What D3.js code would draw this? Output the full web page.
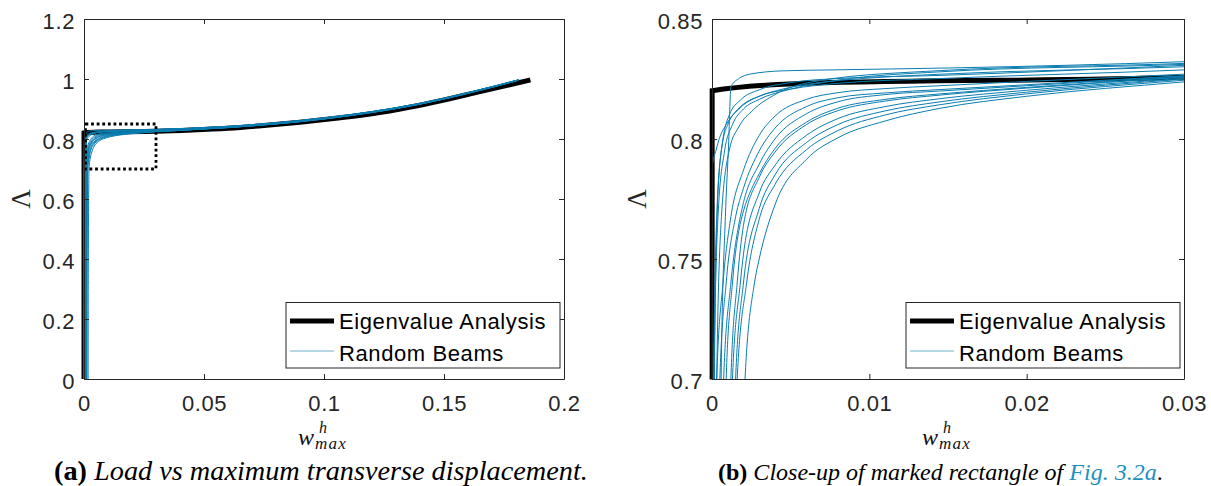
<!DOCTYPE html>
<html><head><meta charset="utf-8">
<script src="https://cdn.jsdelivr.net/npm/d3@7"></script>
<style>body{margin:0;background:#fff} svg{display:block}</style>
</head><body>
<svg id="chart" width="1211" height="486"></svg>
<script>
// ---------------- DATA ----------------
const xTicksA = [0, 0.05, 0.1, 0.15, 0.2];
const xTickLabelsA = ["0", "0.05", "0.1", "0.15", "0.2"];
const yTicksA = [0, 0.2, 0.4, 0.6, 0.8, 1, 1.2];
const yTickLabelsA = ["0", "0.2", "0.4", "0.6", "0.8", "1", "1.2"];
const xTicksB = [0, 0.01, 0.02, 0.03];
const xTickLabelsB = ["0", "0.01", "0.02", "0.03"];
const yTicksB = [0.7, 0.75, 0.8, 0.85];
const yTickLabelsB = ["0.7", "0.75", "0.8", "0.85"];
const zoomRect = [[0, 0.7], [0.03, 0.85]];
const legendLabels = ["Eigenvalue Analysis", "Random Beams"];

// Eigenvalue analysis: [w_max, Lambda]
const eigenvalueCurve = [[0,0],[0.00001,0.8201],[0.006,0.8232],[0.03,0.8257],[0.045,0.830],[0.06,0.836],[0.075,0.845],[0.09,0.856],[0.105,0.869],[0.12,0.884],[0.135,0.905],[0.15,0.930],[0.165,0.958],[0.186,0.997]];

// Random beams: [w_max, Lambda]
const beam01 = [[0.0004,0],[0.00046,0.4],[0.00058,0.70],[0.00085,0.7676],[0.00104,0.7954],[0.00121,0.8218],[0.00174,0.8253],[0.0024,0.827],[0.0045,0.8284],[0.0077,0.8288],[0.0151,0.8296],[0.03,0.8322],[0.06,0.8425],[0.1,0.8705],[0.14,0.919],[0.1812,0.998]];
const beam02 = [[0,0],[0.00001,0.4],[0.00002,0.7],[0.00003,0.789],[0.00026,0.7954],[0.00047,0.8003],[0.0009,0.806],[0.00132,0.81],[0.00195,0.8143],[0.003,0.8178],[0.0045,0.8208],[0.0066,0.8233],[0.0098,0.8253],[0.0145,0.827],[0.03,0.8301],[0.06,0.8405],[0.1,0.869],[0.14,0.918],[0.1808,0.996]];
const beam03 = [[0.0002,0],[0.00024,0.4],[0.0003,0.70],[0.0006,0.7676],[0.0011,0.7954],[0.0017,0.805],[0.0026,0.812],[0.004,0.8185],[0.007,0.8245],[0.0145,0.8285],[0.03,0.8315],[0.06,0.842],[0.1,0.870],[0.14,0.9185],[0.181,0.997]];
const beam04 = [[0.00006,0],[0.00008,0.4],[0.0001,0.7],[0.0003,0.7676],[0.0006,0.7954],[0.001,0.806],[0.0018,0.813],[0.003,0.8178],[0.005,0.8208],[0.008,0.8232],[0.0145,0.8252],[0.03,0.8288],[0.06,0.8405],[0.1,0.8685],[0.14,0.9175],[0.1805,0.995]];
const beam05 = [[0.0001,0],[0.00012,0.4],[0.00015,0.7],[0.0004,0.78],[0.0007,0.8],[0.0011,0.81],[0.0018,0.8162],[0.003,0.8205],[0.005,0.8235],[0.008,0.8252],[0.0145,0.8265],[0.03,0.8307],[0.06,0.841],[0.1,0.8695],[0.14,0.918],[0.181,0.9965]];
const beam06 = [[0.00008,0],[0.0001,0.4],[0.00012,0.7],[0.0004,0.77],[0.0008,0.795],[0.0013,0.806],[0.002,0.8125],[0.003,0.8165],[0.005,0.8208],[0.008,0.8245],[0.0145,0.828],[0.03,0.8311],[0.06,0.8415],[0.1,0.8698],[0.14,0.9185],[0.1811,0.9972]];
const beam07 = [[0.0002,0],[0.00024,0.4],[0.0003,0.7],[0.0007,0.74],[0.0012,0.7676],[0.002,0.787],[0.003,0.8015],[0.004,0.8095],[0.006,0.8165],[0.008,0.8193],[0.011,0.821],[0.0145,0.8222],[0.02,0.824],[0.03,0.827],[0.06,0.8395],[0.1,0.868],[0.14,0.9175],[0.1806,0.9955]];
const beam08 = [[0.00034,0],[0.0004,0.4],[0.0005,0.7],[0.0009,0.74],[0.0015,0.7676],[0.002,0.7795],[0.003,0.795],[0.004,0.8045],[0.006,0.8135],[0.008,0.8172],[0.011,0.8192],[0.0145,0.8206],[0.02,0.8226],[0.03,0.8264],[0.06,0.839],[0.1,0.868],[0.14,0.917],[0.1804,0.995]];
const beam09 = [[0.0005,0],[0.00059,0.4],[0.00074,0.7],[0.0012,0.74],[0.0018,0.7676],[0.002,0.7735],[0.003,0.7895],[0.004,0.8],[0.006,0.8105],[0.008,0.8155],[0.011,0.8185],[0.0145,0.82],[0.02,0.8222],[0.03,0.8262],[0.06,0.839],[0.1,0.8678],[0.14,0.917],[0.1803,0.9948]];
const beam10 = [[0.0006,0],[0.0007,0.4],[0.0009,0.7],[0.0013,0.74],[0.0019,0.7676],[0.002,0.770],[0.003,0.7855],[0.004,0.796],[0.006,0.807],[0.008,0.8128],[0.011,0.8165],[0.0145,0.8188],[0.02,0.8215],[0.03,0.8259],[0.06,0.8388],[0.1,0.8676],[0.14,0.9168],[0.1803,0.9945]];
const beam11 = [[0.0008,0],[0.00095,0.4],[0.0012,0.7],[0.0016,0.74],[0.002,0.764],[0.003,0.784],[0.004,0.7945],[0.006,0.806],[0.008,0.8118],[0.011,0.8158],[0.0145,0.8183],[0.02,0.8212],[0.03,0.8257],[0.06,0.8385],[0.1,0.8675],[0.14,0.9168],[0.1803,0.9945]];
const beam12 = [[0.0009,0],[0.00104,0.4],[0.0013,0.7],[0.0018,0.74],[0.002,0.752],[0.003,0.7775],[0.004,0.789],[0.006,0.8015],[0.008,0.8085],[0.011,0.8135],[0.0145,0.8168],[0.02,0.8203],[0.03,0.8253],[0.06,0.8385],[0.1,0.867],[0.14,0.9165],[0.1802,0.994]];
const beam13 = [[0.0011,0],[0.0012,0.4],[0.0015,0.7],[0.002,0.74],[0.003,0.771],[0.004,0.785],[0.006,0.7985],[0.008,0.806],[0.011,0.8117],[0.0145,0.8155],[0.02,0.8195],[0.03,0.825],[0.06,0.838],[0.1,0.867],[0.14,0.9165],[0.1802,0.994]];
const beam14 = [[0.0012,0],[0.0013,0.4],[0.0016,0.7],[0.0022,0.74],[0.003,0.7665],[0.004,0.781],[0.006,0.7955],[0.008,0.8035],[0.011,0.81],[0.0145,0.8143],[0.02,0.8188],[0.03,0.8245],[0.06,0.838],[0.1,0.8668],[0.14,0.9162],[0.1802,0.9938]];
const beam15 = [[0.0017,0],[0.0018,0.4],[0.0021,0.7],[0.0027,0.74],[0.003,0.75],[0.004,0.7725],[0.006,0.7915],[0.008,0.8005],[0.011,0.8075],[0.0145,0.8128],[0.02,0.8178],[0.03,0.8238],[0.06,0.8378],[0.1,0.8665],[0.14,0.916],[0.18,0.9935]];
const randomBeams = [beam01,beam02,beam03,beam04,beam05,beam06,beam07,beam08,beam09,beam10,beam11,beam12,beam13,beam14,beam15];

// ---------------- DRAWING ----------------
const svg = d3.select("#chart");
const SANS = "'Liberation Sans', Arial, Helvetica, sans-serif";
const SERIF = "'Liberation Serif', 'Times New Roman', serif";
const INK = "#262626";
const BLUE = "#0a7db0";

function panel(cfg) {
  const x = d3.scaleLinear().domain(cfg.xDomain).range([cfg.left, cfg.right]);
  const y = d3.scaleLinear().domain(cfg.yDomain).range([cfg.bottom, cfg.top]);
  const g = svg.append("g");
  const clipId = "clip" + cfg.id;
  svg.append("clipPath").attr("id", clipId).append("rect")
    .attr("x", cfg.left - 3).attr("y", cfg.top - 3)
    .attr("width", cfg.right - cfg.left + 3).attr("height", cfg.bottom - cfg.top + 3.5);

  const line = d3.line().x(d => x(d[0])).y(d => y(d[1])).curve(d3.curveMonotoneX);
  const plot = g.append("g").attr("clip-path", `url(#${clipId})`);
  plot.append("path").datum(eigenvalueCurve).attr("d", line)
    .attr("fill", "none").attr("stroke", "#000").attr("stroke-width", 5).attr("stroke-linejoin", "miter");
  plot.selectAll("path.beam").data(randomBeams).join("path").attr("class", "beam")
    .attr("d", line).attr("fill", "none").attr("stroke", BLUE).attr("stroke-width", 1);

  if (cfg.showRect) {
    g.append("rect")
      .attr("x", x(zoomRect[0][0]) + 1.5).attr("y", y(zoomRect[1][1]))
      .attr("width", x(zoomRect[1][0]) - x(zoomRect[0][0]) - 1.5)
      .attr("height", y(zoomRect[0][1]) - y(zoomRect[1][1]))
      .attr("fill", "none").attr("stroke", "#000").attr("stroke-width", 2.8)
      .attr("stroke-dasharray", "2.8 2.8");
  }

  function style(sel) {
    sel.selectAll("path.domain").attr("stroke", INK);
    sel.selectAll(".tick line").attr("stroke", INK);
    sel.selectAll("text").attr("fill", INK).attr("font-family", SANS)
      .attr("font-size", 22).attr("letter-spacing", "0.6px");
  }
  const bx = g.append("g").attr("transform", `translate(0,${cfg.bottom})`)
    .call(d3.axisBottom(x).tickValues(cfg.xTicks).tickFormat((d, i) => cfg.xLabels[i])
      .tickSizeInner(-5).tickSizeOuter(0).tickPadding(0));
  style(bx); bx.selectAll("text").attr("y", 32).attr("dy", 0);
  const tx = g.append("g").attr("transform", `translate(0,${cfg.top})`)
    .call(d3.axisTop(x).tickValues(cfg.xTicks).tickFormat("").tickSizeInner(-5).tickSizeOuter(0));
  style(tx);
  const ly = g.append("g").attr("transform", `translate(${cfg.left},0)`)
    .call(d3.axisLeft(y).tickValues(cfg.yTicks).tickFormat((d, i) => cfg.yLabels[i])
      .tickSizeInner(-5).tickSizeOuter(0).tickPadding(0));
  style(ly); ly.selectAll("text").attr("x", -9).attr("dy", 9);
  const ry = g.append("g").attr("transform", `translate(${cfg.right},0)`)
    .call(d3.axisRight(y).tickValues(cfg.yTicks).tickFormat("").tickSizeInner(-5).tickSizeOuter(0));
  style(ry);
  g.selectAll(".domain").attr("fill", "none");

  // Y label
  g.append("text").attr("transform", `translate(${cfg.yLabelX},199) rotate(-90)`)
    .attr("text-anchor", "middle").attr("dominant-baseline", "central")
    .attr("font-family", SERIF).attr("font-size", 27).attr("fill", INK).text("\u039B");

  // X label w^h_max
  const cx = (cfg.left + cfg.right) / 2;
  const xl = g.append("text").attr("font-family", SERIF).attr("font-style", "italic").attr("fill", "#111");
  xl.append("tspan").attr("x", cx - 26).attr("y", 445).attr("font-size", 24).text("w");
  xl.append("tspan").attr("x", cx - 5).attr("y", 433).attr("font-size", 16).text("h");
  xl.append("tspan").attr("x", cx - 9).attr("y", 449).attr("font-size", 17).attr("letter-spacing", "1.2px").text("max");

  // Legend
  const lw = 274, lx = cfg.right - 4 - lw, ltop = 302.5, lh = 65.5;
  const lg = g.append("g");
  lg.append("rect").attr("x", lx).attr("y", ltop).attr("width", lw).attr("height", lh)
    .attr("fill", "#fff").attr("stroke", INK).attr("stroke-width", 1);
  const rows = [{ c: "#000", w: 5, yl: 321, yt: 329 }, { c: BLUE, w: 1, yl: 351, yt: 361 }];
  legendLabels.forEach((lab, i) => {
    lg.append("line").attr("x1", lx + 4).attr("x2", lx + 48).attr("y1", rows[i].yl).attr("y2", rows[i].yl)
      .attr("stroke", rows[i].c).attr("stroke-width", rows[i].w).attr("opacity", i === 1 ? 0.6 : 1);
    lg.append("text").attr("x", lx + 53).attr("y", rows[i].yt).attr("font-family", SANS)
      .attr("font-size", 22).attr("letter-spacing", "0.6px").attr("fill", "#000").text(lab);
  });

  // Caption
  const cap = svg.append("text").attr("x", cfg.capX0).attr("y", 480).attr("font-family", SERIF)
    .attr("font-size", 19).attr("fill", "#000");
  cfg.caption.forEach(p => {
    const t = cap.append("tspan").text(p.t);
    if (p.b) t.attr("font-weight", "bold");
    if (p.i) t.attr("font-style", "italic");
    if (p.c) t.attr("fill", p.c);
  });
  const len = cap.node().getComputedTextLength();
  cap.attr("font-size", 19 * (cfg.capX1 - cfg.capX0) / len);
}

panel({ id: "A", left: 84, right: 564, top: 19, bottom: 379,
  xDomain: [0, 0.2], yDomain: [0, 1.2], xTicks: xTicksA, xLabels: xTickLabelsA,
  yTicks: yTicksA, yLabels: yTickLabelsA, showRect: true, yLabelX: 21,
  capX0: 54, capX1: 588,
  caption: [{ t: "(a)", b: true }, { t: " Load vs maximum transverse displacement.", i: true }] });

panel({ id: "B", left: 712, right: 1184, top: 19, bottom: 379,
  xDomain: [0, 0.03], yDomain: [0.7, 0.85], xTicks: xTicksB, xLabels: xTickLabelsB,
  yTicks: yTicksB, yLabels: yTickLabelsB, showRect: false, yLabelX: 637,
  capX0: 718, capX1: 1163,
  caption: [{ t: "(b)", b: true }, { t: " Close-up of marked rectangle of ", i: true },
    { t: "Fig. 3.2a", i: true, c: "#1e90be" }, { t: "." }] });
</script>
</body></html>
